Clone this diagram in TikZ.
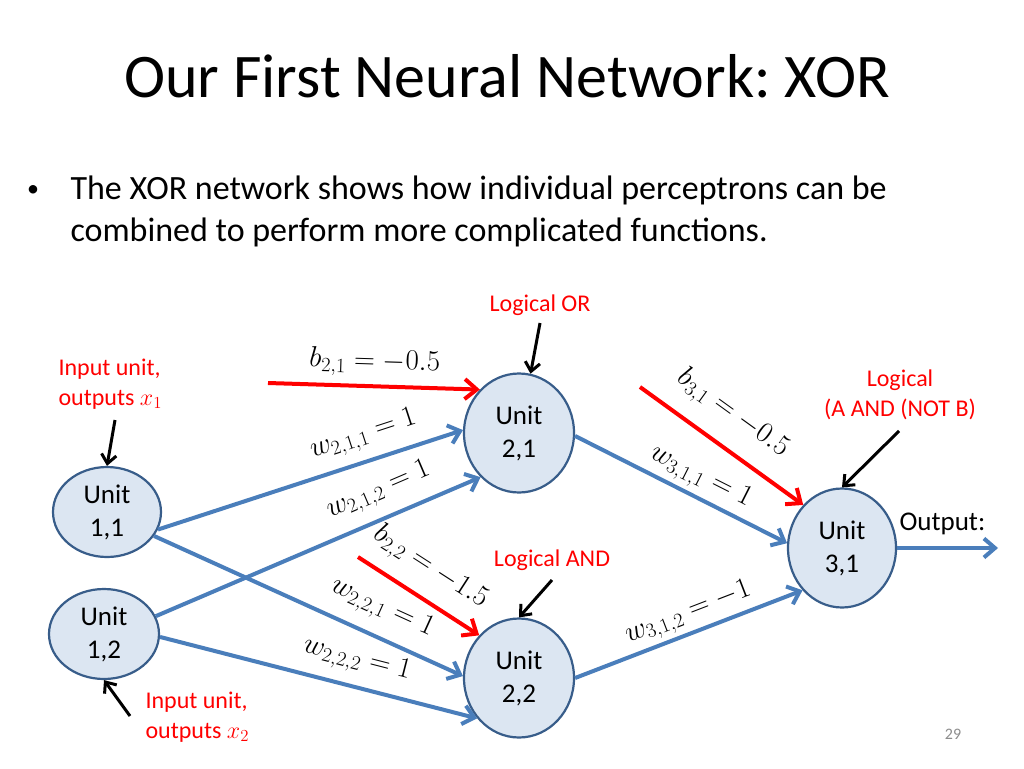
\documentclass[tikz,border=0pt]{standalone}
\usepackage{fix-cm}
\usepackage{fontspec}
\setmainfont{Carlito}
\usetikzlibrary{arrows.meta}
\usetikzlibrary{shapes.geometric}
\definecolor{wireblue}{HTML}{4A7EBB}
\definecolor{unitfill}{HTML}{DCE6F2}
\definecolor{unitline}{HTML}{385D8A}
\definecolor{pagegray}{HTML}{8C8C8C}
\frenchspacing
\tikzset{
  unit/.style={ellipse, draw=unitline, fill=unitfill, line width=2.2pt, inner sep=0pt,
    minimum width=110pt, minimum height=119pt, align=center, font=\fontsize{27}{33}\selectfont},
  inunit/.style={unit, minimum height=90pt},
  wire/.style={wireblue, line width=4pt, -{Straight Barb[length=11pt,width=19pt]}},
  bias/.style={red, line width=4pt, -{Straight Barb[length=12pt,width=20pt]}},
  pointer/.style={black, line width=3pt, -{Straight Barb[length=9pt,width=15pt]}},
  note/.style={red, font=\fontsize{24}{30}\selectfont},
  wlabel/.style={sloped, text=black, inner sep=0pt, font=\fontsize{29}{34}\selectfont},
}

\begin{document}
\begin{tikzpicture}[x=1pt,y=-1pt]

\fill[white] (0,0) rectangle (1024,768);
\useasboundingbox (0,0) rectangle (1024,768);

\node[anchor=base, font=\fontsize{62}{74}\selectfont] (title) at (507,97) {Our First Neural Network: XOR};
\node[anchor=base, font=\fontsize{24}{30}\selectfont] (dot) at (33,196) {\textbullet};
\node[anchor=base west, font=\fontsize{34}{41}\selectfont] (line1) at (67,199) {The XOR network shows how individual perceptrons can be};
\node[anchor=base west, font=\fontsize{34}{41}\selectfont] (line2) at (67,241) {combined to perform more complicated functions.};

\node[inunit, minimum width=108pt] (u11) at (107,512) {Unit\\1,1};
\node[inunit] (u12) at (104,634) {Unit\\1,2};
\node[unit] (u21) at (519,433) {Unit\\2,1};
\node[unit] (u22) at (519,678) {Unit\\2,2};
\node[unit, minimum width=108pt] (u31) at (842,548) {Unit\\3,1};

\draw[wire] (u11.-19) -- (u21.177) node[wlabel, pos=.7, above=10pt] {$w_{2,1,1}=1$};
\draw[wire] (u12.19) -- (u21.-131) node[wlabel, pos=.72, above=12pt] {$w_{2,1,2}=1$};
\draw[wire] (u11.-27) -- (u22.178) node[wlabel, pos=.7, above=13pt] {$w_{2,2,1}=1$};
\draw[wire] (u12.-3) -- (u22.-136) node[wlabel, pos=.6, above=11pt] {$w_{2,2,2}=1$};
\draw[wire] (u21.-3) -- (u31.175) node[wlabel, pos=.55, above=4pt] {$w_{3,1,1}=1$};
\draw[wire] (u22.0) -- (u31.-133) node[wlabel, pos=.53, above=4pt] {$w_{3,1,2}=-1$};

\coordinate (b21) at (268,383);
\coordinate (b22) at (358,557);
\coordinate (b31) at (640,387);
\draw[bias] (b21) -- (u21.132) node[wlabel, pos=.5, above=7pt] {$b_{2,1}=-0.5$};
\draw[bias] (b22) -- (u22.133) node[wlabel, pos=.46, above=14pt] {$b_{2,2}=-1.5$};
\draw[bias] (b31) -- (u31.132) node[wlabel, pos=.45, above=16pt] {$b_{3,1}=-0.5$};

\coordinate (out) at (998,548);
\draw[wire] (u31.east) -- (out);
\node[anchor=base west, font=\fontsize{27}{33}\selectfont] (outlbl) at (896,530) {Output:};

\node[note, anchor=base west, align=left] (in1) at (55,405) {Input unit,\\outputs $x_1$};
\node[note, anchor=base west, align=left] (in2) at (142,738) {Input unit,\\outputs $x_2$};
\node[note, anchor=base] (orlbl) at (540,311) {Logical OR};
\node[note, anchor=base] (andlbl) at (552,566) {Logical AND};
\node[note, anchor=base, align=center] (anblbl) at (900,416) {Logical\\(A AND (NOT B)};

\coordinate (p11) at (115,420);
\coordinate (p12) at (130,716);
\coordinate (p21) at (540,323);
\coordinate (p22) at (552,580);
\coordinate (p31) at (899,431);
\draw[pointer] (p11) -- (u11.north);
\draw[pointer] (p12) -- (u12.south);
\draw[pointer] (p21) -- (u21.79);
\draw[pointer] (p22) -- (u22.north);
\draw[pointer] (p31) -- (u31.north);

\node[pagegray, anchor=base, font=\fontsize{16}{19}\selectfont] (pgnum) at (953,739) {29};

\end{tikzpicture}
\end{document}
